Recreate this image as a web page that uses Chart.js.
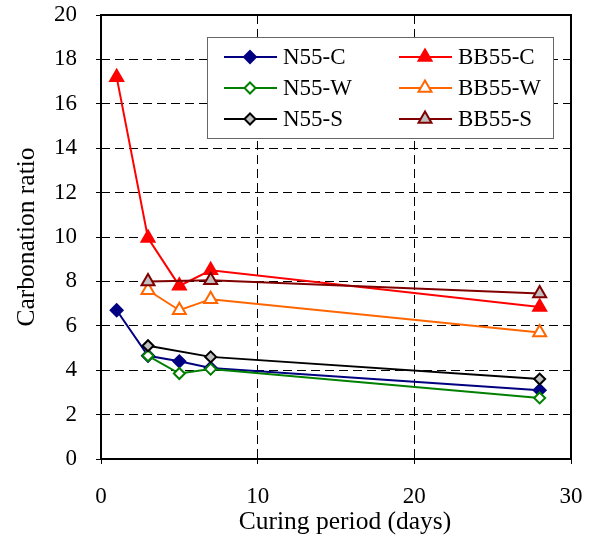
<!DOCTYPE html>
<html>
<head>
<meta charset="utf-8">
<script src="https://cdn.jsdelivr.net/npm/chart.js@4"></script>
<style>
  html, body { margin: 0; padding: 0; background: #fff; }
  #wrap { width: 593px; height: 539px; position: relative; }
</style>
</head>
<body>
<div id="wrap"><canvas id="c"></canvas></div>
<script>
// ---- data ----
const days = [1, 3, 5, 7, 28];
const seriesNames = ['N55-C', 'BB55-C', 'N55-W', 'BB55-W', 'N55-S', 'BB55-S'];
const n55C  = [6.7, 4.65, 4.4, 4.1, 3.1];
const bb55C = [17.2, 9.95, 7.8, 8.5, 6.85];
const n55W  = [null, 4.65, 3.85, 4.05, 2.75];
const bb55W = [null, 7.6, 6.7, 7.2, 5.7];
const n55S  = [null, 5.1, null, 4.6, 3.6];
const bb55S = [null, 8.0, null, 8.05, 7.45];
const xTicks = [0, 10, 20, 30];
const yTicks = [0, 2, 4, 6, 8, 10, 12, 14, 16, 18, 20];
const xTitle = 'Curing period (days)';
const yTitle = 'Carbonation ratio';

const FONT = "'Liberation Serif', 'Times New Roman', serif";

function pts(vals) {
  const out = [];
  vals.forEach((v, i) => { if (v !== null) out.push({ x: days[i], y: v }); });
  return out;
}

const styles = [
  { color: '#000080', fill: '#000080', style: 'rectRot', r: 6 },
  { color: '#FF0000', fill: '#FF0000', style: 'triangle', r: 7.5 },
  { color: '#008000', fill: '#FFFFFF', style: 'rectRot', r: 5.5 },
  { color: '#FF6600', fill: '#FFFFFF', style: 'triangle', r: 7.5 },
  { color: '#000000', fill: '#C0C0C0', style: 'rectRot', r: 5.5 },
  { color: '#800000', fill: '#C0C0C0', style: 'triangle', r: 7.5 }
];
const allVals = [n55C, bb55C, n55W, bb55W, n55S, bb55S];

const datasets = seriesNames.map((name, i) => ({
  label: name,
  data: pts(allVals[i]),
  borderColor: styles[i].color,
  backgroundColor: styles[i].fill,
  borderWidth: 2,
  pointStyle: styles[i].style,
  pointRadius: styles[i].r,
  pointHoverRadius: styles[i].r,
  pointBorderWidth: 2,
  pointBorderColor: styles[i].color,
  pointBackgroundColor: styles[i].fill,
  tension: 0,
  fill: false,
  order: seriesNames.length - i
}));

const boxPlugin = {
  id: 'box',
  beforeDatasetsDraw(chart) {
    const { ctx, chartArea: a } = chart;
    ctx.save();
    ctx.strokeStyle = '#000';
    ctx.lineWidth = 2;
    ctx.strokeRect(a.left, a.top, a.right - a.left, a.bottom - a.top);
    ctx.restore();
  }
};

const xTitlePlugin = {
  id: 'xTitle',
  afterDraw(chart) {
    const ctx = chart.ctx;
    ctx.save();
    ctx.fillStyle = '#000';
    ctx.font = '25.5px ' + FONT;
    ctx.textAlign = 'center';
    ctx.textBaseline = 'alphabetic';
    ctx.fillText(xTitle, 345, 529);
    ctx.restore();
  }
};

const legendPlugin = {
  id: 'customLegend',
  afterDraw(chart) {
    const ctx = chart.ctx;
    ctx.save();
    ctx.fillStyle = '#fff';
    ctx.fillRect(207, 37, 346, 102);
    ctx.strokeStyle = '#666';
    ctx.lineWidth = 1;
    ctx.strokeRect(207.5, 37.5, 346, 101);
    const rows = [57, 88, 119];
    const cols = [{ l0: 224, l1: 277, m: 250, t: 283 }, { l0: 399, l1: 452, m: 425, t: 458 }];
    seriesNames.forEach((name, i) => {
      const col = cols[i % 2];
      const y = rows[Math.floor(i / 2)];
      const s = styles[i];
      ctx.strokeStyle = s.color;
      ctx.lineWidth = 2;
      ctx.beginPath();
      ctx.moveTo(col.l0, y);
      ctx.lineTo(col.l1, y);
      ctx.stroke();
      ctx.fillStyle = s.fill;
      ctx.strokeStyle = s.color;
      ctx.lineWidth = 2;
      Chart.helpers.drawPoint(ctx, { pointStyle: s.style, radius: s.r, rotation: 0, borderWidth: 2 }, col.m, y);
      ctx.fillStyle = '#000';
      ctx.font = '23px ' + FONT;
      ctx.textAlign = 'left';
      ctx.textBaseline = 'middle';
      ctx.fillText(name, col.t, y + 1);
    });
    ctx.restore();
  }
};

new Chart(document.getElementById('c'), {
  type: 'line',
  data: { datasets },
  plugins: [boxPlugin, legendPlugin, xTitlePlugin],
  options: {
    responsive: true,
    maintainAspectRatio: false,
    animation: false,
    spanGaps: true,
    layout: { padding: { top: 15, right: 22, left: 0, bottom: 0 } },
    plugins: { legend: { display: false }, tooltip: { enabled: false } },
    scales: {
      x: {
        type: 'linear',
        min: 0, max: 30,
        afterBuildTicks(scale) { scale.ticks = xTicks.map(v => ({ value: v })); },
        afterFit(scale) { scale.height = 80; scale.paddingLeft = 0; scale.paddingRight = 0; },
        border: { display: false, dash: [9, 5] },
        grid: {
          color: '#000', lineWidth: 1,
          drawTicks: true, tickLength: 5, tickColor: '#000', tickBorderDash: [], tickWidth: 1
        },
        ticks: { color: '#000', font: { family: FONT, size: 23 }, padding: 19, maxRotation: 0 },
        title: { display: false, text: xTitle }
      },
      y: {
        type: 'linear',
        min: 0, max: 20,
        afterBuildTicks(scale) { scale.ticks = yTicks.map(v => ({ value: v })); },
        afterFit(scale) { scale.width = 101; scale.paddingTop = 0; scale.paddingBottom = 0; },
        border: { display: false, dash: [9, 5] },
        grid: {
          color: '#000', lineWidth: 1,
          drawTicks: true, tickLength: 5, tickColor: '#000', tickBorderDash: [], tickWidth: 1
        },
        ticks: { color: '#000', font: { family: FONT, size: 23 }, padding: 19 },
        title: { display: true, text: yTitle, color: '#000', font: { family: FONT, size: 25.5 }, padding: { top: 12, bottom: 0 } }
      }
    }
  }
});
</script>
</body>
</html>
